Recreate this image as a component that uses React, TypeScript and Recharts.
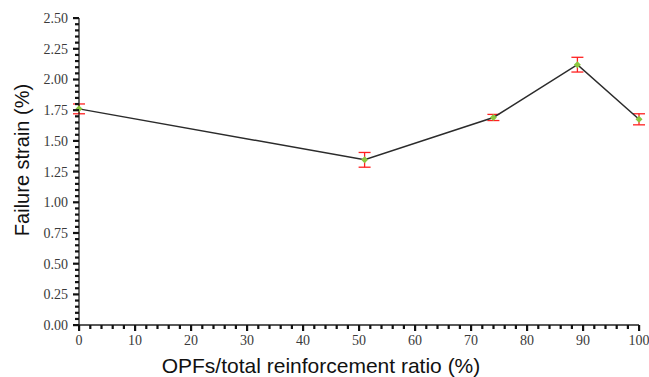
import { ErrorBar, Line, LineChart, XAxis, YAxis } from "recharts";

const ratios = [0, 51, 74, 89, 100];
const strain = [1.76, 1.345, 1.69, 2.12, 1.675];
const strainErr = [0.04, 0.06, 0.025, 0.06, 0.045];

const xMajor = [0, 10, 20, 30, 40, 50, 60, 70, 80, 90, 100];
const yMajor = ["0.00", "0.25", "0.50", "0.75", "1.00", "1.25", "1.50", "1.75", "2.00", "2.25", "2.50"];

// minor tick positions (every 2 on x, every 0.05 on y)
const xTicks = Array.from({ length: 51 }, (_, i) => i * 2);
const yTicks = Array.from({ length: 51 }, (_, i) => Math.round(i * 5) / 100);

const data = ratios.map((r, i) => ({ ratio: r, strain: strain[i], err: strainErr[i] }));

const tickFont = { fontFamily: "'Liberation Serif', 'Times New Roman', serif", fontSize: 14, fill: "#3a3a3a" };
const titleFont = "'Liberation Sans', Arial, sans-serif";

// tickSize/tickMargin are 0, so x/y sit on the axis line
function XTick(props: any) {
  const { x, y, payload } = props;
  const v = payload.value;
  const major = xMajor.includes(v);
  return (
    <g>
      <rect x={x - 1} y={y} width={2.2} height={major ? 6 : 4} fill="#111" />
      {major && (
        <text x={x} y={y + 20} textAnchor="middle" {...tickFont}>
          {v}
        </text>
      )}
    </g>
  );
}

function YTick(props: any) {
  const { x, y, payload } = props;
  const label = payload.value.toFixed(2);
  const major = yMajor.includes(label);
  const len = major ? 6 : 4;
  return (
    <g>
      <rect x={x - len} y={y - 1} width={len} height={2.2} fill="#111" />
      {major && (
        <text x={x - 11} y={y + 5} textAnchor="end" {...tickFont}>
          {label}
        </text>
      )}
    </g>
  );
}

function XTitle({ viewBox }: any) {
  return (
    <text x={viewBox.x + 242} y={viewBox.y + 48} textAnchor="middle" fontFamily={titleFont} fontSize={21} fill="#111">
      OPFs/total reinforcement ratio (%)
    </text>
  );
}

function YTitle({ viewBox }: any) {
  const cx = viewBox.x + 29;
  const cy = viewBox.y + 142;
  return (
    <text x={cx} y={cy} transform={`rotate(-90 ${cx} ${cy})`} textAnchor="middle" fontFamily={titleFont} fontSize={20} fill="#111">
      Failure strain (%)
    </text>
  );
}

function Marker({ cx, cy }: any) {
  return <path d={`M${cx},${cy - 3.5} L${cx + 3.5},${cy} L${cx},${cy + 3.5} L${cx - 3.5},${cy} Z`} fill="#8cc63f" />;
}

export default function App() {
  return (
    <div style={{ position: "absolute", left: 0, top: 0, background: "#fff" }}>
      <LineChart width={649} height={377} data={data} margin={{ top: 18, right: 10, bottom: 0, left: 0 }}>
        <XAxis
          dataKey="ratio"
          type="number"
          domain={[0, 100]}
          ticks={xTicks}
          interval={0}
          tickLine={false}
          tickSize={0}
          tickMargin={0}
          axisLine={{ stroke: "#222", strokeWidth: 1.3 }}
          tick={<XTick />}
          height={52}
          label={<XTitle />}
        />
        <YAxis
          type="number"
          domain={[0, 2.5]}
          ticks={yTicks}
          interval={0}
          tickLine={false}
          tickSize={0}
          tickMargin={0}
          axisLine={{ stroke: "#222", strokeWidth: 1.3 }}
          tick={<YTick />}
          width={79}
          label={<YTitle />}
        />
        <Line dataKey="strain" stroke="#2b2b2b" strokeWidth={1.5} dot={<Marker />} activeDot={false} isAnimationActive={false}>
          <ErrorBar dataKey="err" stroke="#ff2020" strokeWidth={1.3} width={6} direction="y" />
        </Line>
      </LineChart>
    </div>
  );
}
